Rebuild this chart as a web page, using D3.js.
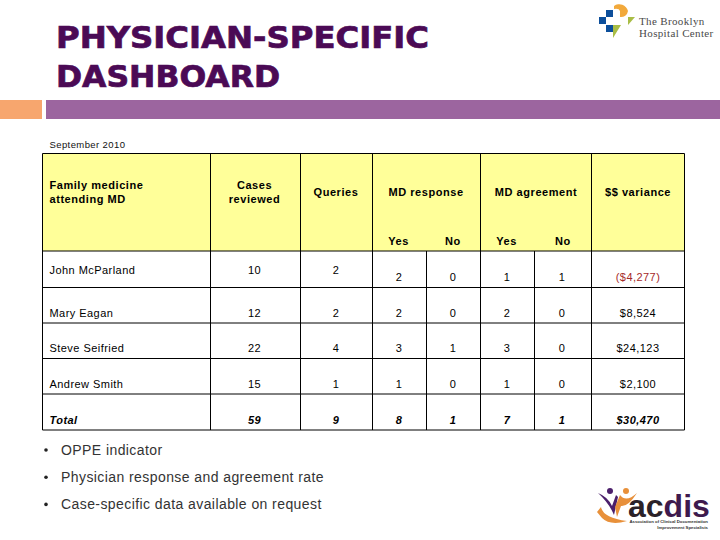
<!DOCTYPE html>
<html><head><meta charset="utf-8">
<script src="https://cdn.jsdelivr.net/npm/d3@7/dist/d3.min.js"></script>
<style>html,body{margin:0;padding:0;background:#fff}svg{display:block}text{font-family:"Liberation Sans",Arial,sans-serif}</style>
</head><body><svg id="c" width="720" height="540"></svg>
<script>
const titleLines = ["PHYSICIAN-SPECIFIC","DASHBOARD"];
const dateLabel = "September 2010";
const physicians = ["John McParland","Mary Eagan","Steve Seifried","Andrew Smith","Total"];
const casesReviewed = ["10","12","22","15","59"];
const queries = ["2","2","4","1","9"];
const responseYes = ["2","2","3","1","8"];
const responseNo = ["0","0","1","0","1"];
const agreementYes = ["1","2","3","1","7"];
const agreementNo = ["1","0","0","0","1"];
const variance = ["($4,277)","$8,524","$24,123","$2,100","$30,470"];
const bullets = ["OPPE indicator","Physician response and agreement rate","Case-specific data available on request"];

const svg = d3.select("#c");
const colKeys = ["name","cases","queries","ry","rn","ay","an","var","end"];
const colEdge = d3.scaleOrdinal().domain(colKeys).range([42.5,210.5,300.5,372.5,426.5,480.5,534.5,591.5,684.5]);
const rowKeys = ["top","head",...physicians];
const rowEdge = d3.scaleOrdinal().domain(rowKeys).range([153.5,251,287.5,323,358.5,394,430]);
const ink = "#000";

// banner
svg.append("rect").attr("x",0).attr("y",100).attr("width",42).attr("height",19).attr("fill","#f7a66e");
svg.append("rect").attr("x",46).attr("y",100).attr("width",674).attr("height",19).attr("fill","#9c659f");
const titleWidths = [373,224];
svg.selectAll(".title").data(titleLines).join("text").attr("class","title")
  .attr("x",56).attr("y",(d,i)=>48+i*39).attr("fill","#4b0a55").attr("stroke","#4b0a55").attr("stroke-width",0.7)
  .attr("textLength",(d,i)=>titleWidths[i]).attr("lengthAdjust","spacingAndGlyphs")
  .style("font-family","'DejaVu Sans'").style("font-weight","bold").style("font-size","29.5px").text(d=>d);

svg.append("text").attr("x",49.5).attr("y",148).attr("font-size",9.5).attr("letter-spacing",0.4).attr("fill","#111").text(dateLabel);

// table background
svg.append("rect").attr("x",colEdge("name")).attr("y",rowEdge("top"))
  .attr("width",colEdge("end")-colEdge("name")).attr("height",rowEdge("head")-rowEdge("top")).attr("fill","#ffff99");

// grid
svg.selectAll(".h").data(rowKeys).join("line")
  .attr("x1",colEdge("name")).attr("x2",colEdge("end")).attr("y1",d=>rowEdge(d)).attr("y2",d=>rowEdge(d))
  .attr("stroke",ink).attr("stroke-width",1);
const lastRow = physicians[physicians.length-1];
svg.selectAll(".v").data(colKeys).join("line")
  .attr("x1",d=>colEdge(d)).attr("x2",d=>colEdge(d))
  .attr("y1",d=>(d==="rn"||d==="an")?rowEdge("head"):rowEdge("top")).attr("y2",rowEdge(lastRow))
  .attr("stroke",ink).attr("stroke-width",1);

// header text
const headers = [
 {t:"Family medicine",x:49.5,y:188.5,a:"start"},{t:"attending MD",x:49.5,y:202.5,a:"start"},
 {t:"Cases",x:254.5,y:188.5},{t:"reviewed",x:254.5,y:202.5},
 {t:"Queries",x:336,y:195.5},{t:"MD response",x:426,y:195.5},{t:"MD agreement",x:536,y:195.5},{t:"$$ variance",x:638,y:195.5},
 {t:"Yes",x:398.5,y:244.5},{t:"No",x:453,y:244.5},{t:"Yes",x:506.5,y:244.5},{t:"No",x:563,y:244.5}];
svg.selectAll(".hd").data(headers).join("text").attr("class","hd")
  .attr("x",d=>d.x).attr("y",d=>d.y).attr("text-anchor",d=>d.a||"middle")
  .attr("font-size",11).attr("font-weight","bold").attr("letter-spacing",0.55).attr("fill","#000").text(d=>d.t);

// body
const colCenter = {cases:254.5,queries:336,ry:399,rn:453,ay:507,an:562,var:638};
const rowBase = [273.5,316.5,351.5,387.5,423.5];
const cols = [["cases",casesReviewed],["queries",queries],["ry",responseYes],["rn",responseNo],["ay",agreementYes],["an",agreementNo],["var",variance]];
physicians.forEach((p,i)=>{
  const total = p==="Total";
  const g = svg.append("g").attr("font-size",11).attr("letter-spacing",0.45).attr("fill","#000")
    .attr("font-weight",total?"bold":null).attr("font-style",total?"italic":null);
  g.append("text").attr("x",49.5).attr("y",rowBase[i]).text(p);
  cols.forEach(([k,arr],c)=>{
    const late = i===0 && c>=2;
    g.append("text").attr("x",colCenter[k]).attr("y",rowBase[i]+(late?7.5:0)).attr("text-anchor","middle")
      .attr("fill",arr[i].startsWith("(")?"#a52a2a":null).text(arr[i]);
  });
});

// bullets
svg.selectAll(".b").data(bullets).join("g").attr("class","b").each(function(d,i){
  const g=d3.select(this), y=455+i*27.2;
  g.append("circle").attr("cx",46).attr("cy",y-5).attr("r",1.8).attr("fill","#222");
  g.append("text").attr("x",61).attr("y",y).attr("font-size",14).attr("letter-spacing",0.42).attr("fill","#333").text(d);
});

// Brooklyn logo
const blue="#0d4f9b";
[[599,17],[606,10],[606,25]].forEach(([x,y])=>svg.append("rect").attr("x",x).attr("y",y).attr("width",7).attr("height",7).attr("fill",blue));
svg.append("path").attr("d","M614 6 A9 9 0 0 1 628 11 A7 7 0 0 1 620 17 L620 11 Q619 8 614 9 Z").attr("fill","#f2a93b");
svg.append("path").attr("d","M613 25 L621 25 L613 38 Z M628 17 L635 17 L628 25 Z").attr("fill","#a9bd45");
svg.selectAll(".bk").data(["The Brooklyn","Hospital Center"]).join("text").attr("class","bk")
  .attr("x",639).attr("y",(d,i)=>25+i*12).attr("fill","#4a4a4a").attr("font-size",11)
  .style("font-family","'Liberation Serif'").attr("letter-spacing",0.35).text(d=>d);

// ACDIS logo
svg.append("text").attr("x",628).attr("y",517).attr("font-size",32).attr("font-weight","bold").attr("fill","#2b2228").text("ac")
  .append("tspan").attr("fill","#3e1a4e").text("dis");
svg.append("path").attr("d","M598 493 Q608 497 612 506 L616 495 L618 497 L614 515 Q609 503 598 493Z").attr("fill","#4b1f6b");
svg.append("path").attr("d","M615 507 L620 495 Q626 503 637 493 Q628 507 621 506 L617 517Z").attr("fill","#e8903a");
svg.append("path").attr("d","M601 507 Q603 518 627 521 Q610 526 602 518 L597 512Z").attr("fill","#e8903a");
svg.append("circle").attr("cx",610).attr("cy",491).attr("r",3).attr("fill","#4b1f6b");
svg.append("circle").attr("cx",626).attr("cy",491).attr("r",3).attr("fill","#e8903a");
svg.selectAll(".ac").data(["Association of Clinical Documentation","Improvement Specialists"]).join("text").attr("class","ac")
  .attr("x",708).attr("y",(d,i)=>523+i*5.5).attr("text-anchor","end").attr("font-size",4.3).attr("font-weight","bold").attr("fill","#333").text(d=>d);
</script></body></html>
